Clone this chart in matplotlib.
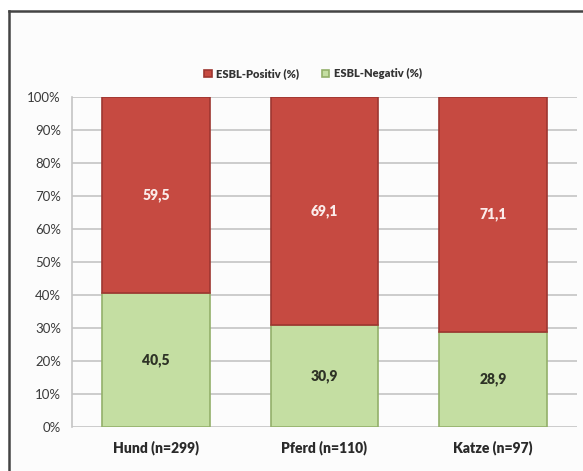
import matplotlib.pyplot as plt
import numpy as np

categories = ['Hund (n=299)', 'Pferd (n=110)', 'Katze (n=97)']
negativ = [40.5, 30.9, 28.9]
positiv = [59.5, 69.1, 71.1]
yticks = [0, 10, 20, 30, 40, 50, 60, 70, 80, 90, 100]

plt.rcParams['font.family'] = ['Lato', 'DejaVu Sans']

fig = plt.figure(figsize=(5.83, 4.71), dpi=100)
fig.patch.set_facecolor('white')

# frame of the chart: only the top and left edges are inside the crop
bg = fig.add_axes([0.016, -0.2, 1.3, 1.177], zorder=-1)
bg.set_xticks([])
bg.set_yticks([])
bg.set_facecolor('#fcfcfc')
for s in ['right', 'bottom']:
    bg.spines[s].set_visible(False)
for s in ['top', 'left']:
    bg.spines[s].set_color('#444444')
    bg.spines[s].set_linewidth(1.8)

ax = fig.add_axes([0.1235, 0.0934, 0.8662, 0.7006])
ax.set_facecolor('none')

x = np.arange(len(categories))
w = 0.64
red = '#c64a41'
green = '#c4dea2'

ax.bar(x, negativ, w, color=green, edgecolor='#93b06a', linewidth=1.2, zorder=3,
       label='ESBL-Negativ (%)')
ax.bar(x, positiv, w, bottom=negativ, color=red, edgecolor='#9e3631', linewidth=1.2,
       zorder=3, label='ESBL-Positiv (%)')

for i in range(len(categories)):
    ax.text(x[i], negativ[i] / 2, f'{negativ[i]:.1f}'.replace('.', ','), ha='center',
            va='center', fontsize=10, fontweight='heavy', color='#2e3326', zorder=4)
    ax.text(x[i], negativ[i] + positiv[i] / 2, f'{positiv[i]:.1f}'.replace('.', ','),
            ha='center', va='center', fontsize=10, fontweight='heavy', color='#fbecea', zorder=4)

ax.set_xlim(-0.5, 2.5)
ax.set_ylim(0, 100)
ax.set_yticks(yticks)
ax.set_yticklabels([f'{t}%' for t in yticks], fontsize=9.5, color='#3a3a3a')
ax.set_xticks(x)
ax.set_xticklabels(categories, fontsize=10, fontweight='heavy', color='#2a2a2a')
ax.tick_params(axis='both', length=0, pad=8)
ax.tick_params(axis='x', pad=10)
ax.yaxis.grid(True, color='#c4c4c4', linewidth=1.2, zorder=0)
for s in ['top', 'right', 'bottom']:
    ax.spines[s].set_visible(False)
ax.spines['left'].set_color('#c4c4c4')
ax.spines['left'].set_linewidth(1.2)

h, l = ax.get_legend_handles_labels()
leg = fig.legend(h[::-1], l[::-1], loc='center', bbox_to_anchor=(0.537, 0.843), ncol=2,
                 frameon=False, handlelength=0.7, handleheight=0.7,
                 columnspacing=2.0, handletextpad=0.4,
                 prop={'weight': 'heavy', 'size': 8})
for t in leg.get_texts():
    t.set_color('#333333')

fig.savefig('out.png', dpi=100)
